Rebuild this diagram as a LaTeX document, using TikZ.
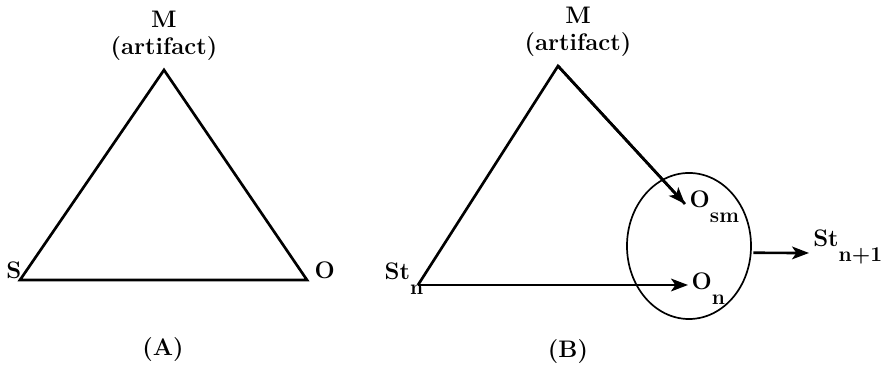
\documentclass[tikz,border=0pt]{standalone}
\usepackage{fontspec}
\usetikzlibrary{arrows.meta,positioning,shapes.geometric}

\newcommand{\dropsub}[1]{\raisebox{-1.4ex}{\fontsize{15}{16}\selectfont #1}}

\tikzset{
  lbl/.style={font=\fontsize{17}{19}\selectfont\bfseries, inner sep=1pt},
  side/.style={line width=1.9pt, line join=miter},
  arr/.style={line width=1.9pt, -{Stealth[length=12pt,width=9pt,inset=3pt]}},
}

\begin{document}
\begin{tikzpicture}[x=0.025cm,y=0.025cm]
\useasboundingbox (0,0) rectangle (885,365);

% (A) vertices
\coordinate (mA) at (164,295);
\coordinate (sA) at (20,85);
\coordinate (oA) at (307,85);

% (A) triangle
\draw[side] (mA) -- (sA) -- (oA) -- cycle;

% (A) labels
\node[lbl, align=center, anchor=south] (mlblA) at (164,303) {M\\(artifact)};
\node[lbl, anchor=east] (slbl) at (23,95) {S};
\node[lbl, anchor=west] (olbl) at (313,95) {O};
\node[lbl] (capA) at (163,15) {(A)};

% (B) vertices
\coordinate (mB) at (558,299);
\coordinate (stB) at (418,80);
\coordinate (osmtip) at (685,161);
\coordinate (ontip) at (688,80);
\coordinate (outtip) at (809,112);

% (B) ellipse
\node[draw, ellipse, line width=1.2pt, minimum width=3.1cm, minimum height=3.65cm] (orbit) at (689,119) {};

% (B) lines and arrows
\draw[side] (osmtip) -- (mB) -- (stB);
\draw[arr] (mB) -- (osmtip);
\draw[arr] (stB) -- (ontip);
\draw[arr] ([xshift=1pt,yshift=-0.17cm]orbit.east) -- (outtip);

% (B) labels
\node[lbl, align=center, anchor=south] (mlblB) at (578,307) {M\\(artifact)};
\node[lbl, anchor=base west] (osmlbl) at (688,157) {O\dropsub{sm}};
\node[lbl, anchor=base west] (onlbl) at (690,75) {O\dropsub{n}};
\node[lbl, anchor=base east] (stlbl) at (425,85) {St\dropsub{n}};
\node[lbl, anchor=base west, inner sep=0pt] (stnext) at (813,118) {St\dropsub{n+1}};
\node[lbl] (capB) at (568,13) {(B)};

\end{tikzpicture}
\end{document}
